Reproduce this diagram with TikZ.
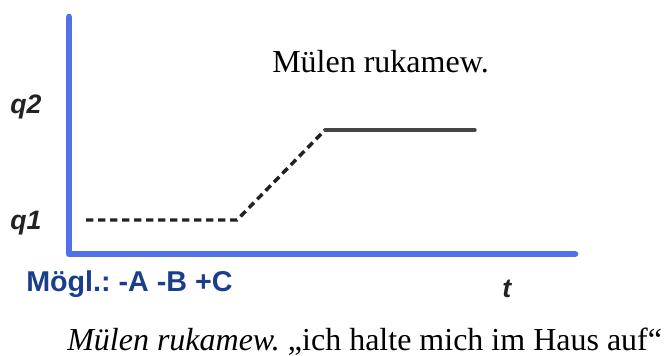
\documentclass[tikz,border=0pt]{standalone}
\usepackage{fontspec}
\setmainfont{Liberation Serif}
\setsansfont{Liberation Sans}
\usepackage{xcolor}
\usepackage{tikz}
\usetikzlibrary{arrows.meta, calc}
\frenchspacing
\definecolor{myblue}{RGB}{82,112,232}
\definecolor{mynavy}{RGB}{26,62,140}
\definecolor{mydark}{RGB}{34,34,34}
\definecolor{mygray}{RGB}{68,68,68}
\tikzset{
  axisline/.style={line width=5pt, color=myblue, line cap=round, line join=round},
  planline/.style={line width=2.6pt, color=mygray, line cap=round},
  guessline/.style={line width=2.6pt, color=mydark, dash pattern=on 5.5pt off 3.5pt},
  qlabel/.style={anchor=base west, inner sep=0pt, color=mydark,
    font=\sffamily\bfseries\itshape\fontsize{20}{22}\selectfont},
  optlabel/.style={anchor=base west, inner sep=0pt, color=mynavy,
    font=\sffamily\bfseries\fontsize{21.5}{24}\selectfont},
  serifnote/.style={anchor=base west, inner sep=0pt, color=black,
    font=\rmfamily\fontsize{24}{28}\selectfont}
}
\begin{document}
\begin{tikzpicture}[x=0.75pt, y=-0.75pt]
  \useasboundingbox (0,0) rectangle (665,356);
  % axes
  \coordinate (ytop)   at (69,17);
  \coordinate (origin) at (69,254);
  \coordinate (xend)   at (575,254);
  \draw[axisline] (ytop) -- (origin) -- (xend);
  % course of the value
  \coordinate (qonestart) at (86,220);
  \coordinate (qonebend)  at (237,220);
  \coordinate (qtwobend)  at (325,130);
  \coordinate (qtwoend)   at (475,130);
  \draw[guessline] (qonestart) -- (qonebend) -- (qtwobend);
  \draw[planline] (qtwobend) -- (qtwoend);
  % labels
  \node[qlabel] (lblqtwo) at (10,114) {q2};
  \node[qlabel] (lblqone) at (10,230) {q1};
  \node[qlabel] (lbltime) at (502,298) {t};
  \node[optlabel] (options) at (26,292) {Mögl.: -A -B +C};
  \node[serifnote] (title) at (272,73) {Mülen rukamew.};
  \node[serifnote] (caption) at (67,351) {\itshape Mülen rukamew.\upshape\ „ich halte mich im Haus auf“};
\end{tikzpicture}
\end{document}
